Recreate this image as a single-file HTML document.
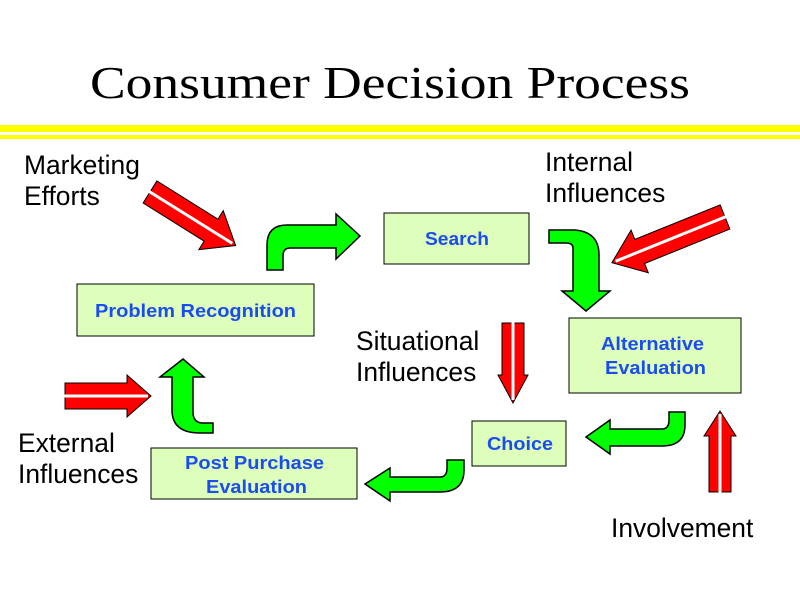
<!DOCTYPE html>
<html><head><meta charset="utf-8"><style>
html,body{margin:0;padding:0;background:#fff;}
svg{display:block;}
.lbl{font-family:"Liberation Sans",sans-serif;font-size:26.4px;fill:#000;}
.bx{fill:#ddffbb;stroke:#000;stroke-width:1;}
.bt{font-family:"Liberation Sans",sans-serif;font-size:18px;font-weight:bold;fill:#1a4cf0;}
.g{fill:#00ff00;stroke:#000;stroke-width:1.5;}
.r{fill:#ff0000;stroke:#000;stroke-width:1;}
</style></head><body>
<svg width="800" height="600" viewBox="0 0 800 600" xmlns="http://www.w3.org/2000/svg">
<text x="90" y="98" font-family="Liberation Serif,serif" font-size="45" textLength="600" lengthAdjust="spacingAndGlyphs">Consumer Decision Process</text>
<rect x="0" y="125" width="800" height="7" fill="#ffff00"/>
<rect x="0" y="135" width="800" height="4" fill="#ffff00"/>

<text class="lbl" x="24" y="174">Marketing</text>
<text class="lbl" x="24" y="205">Efforts</text>
<text class="lbl" x="545" y="171">Internal</text>
<text class="lbl" x="545" y="202">Influences</text>
<text class="lbl" x="356" y="350">Situational</text>
<text class="lbl" x="356" y="381">Influences</text>
<text class="lbl" x="18" y="452">External</text>
<text class="lbl" x="18" y="483">Influences</text>
<text class="lbl" x="611" y="537">Involvement</text>

<rect class="bx" x="77" y="284" width="237" height="52"/>
<text class="bt" x="95" y="317" textLength="201" lengthAdjust="spacingAndGlyphs">Problem Recognition</text>
<rect class="bx" x="384" y="213" width="145" height="51"/>
<text class="bt" x="425" y="245" textLength="64" lengthAdjust="spacingAndGlyphs">Search</text>
<rect class="bx" x="569" y="318" width="172" height="75"/>
<text class="bt" x="601" y="350" textLength="103" lengthAdjust="spacingAndGlyphs">Alternative</text>
<text class="bt" x="605" y="374" textLength="101" lengthAdjust="spacingAndGlyphs">Evaluation</text>
<rect class="bx" x="472" y="421" width="94" height="45"/>
<text class="bt" x="487" y="450" textLength="66" lengthAdjust="spacingAndGlyphs">Choice</text>
<rect class="bx" x="151" y="448" width="206" height="51"/>
<text class="bt" x="185" y="469" textLength="139" lengthAdjust="spacingAndGlyphs">Post Purchase</text>
<text class="bt" x="206" y="493" textLength="101" lengthAdjust="spacingAndGlyphs">Evaluation</text>

<!-- red arrows -->
<g transform="translate(150,192) rotate(32)"><polygon class="r" points="0,-13 72,-13 72,-23 101,0 72,23 72,13 0,13"/><line x1="-1" y1="0" x2="97" y2="0" stroke="#fff" stroke-width="3"/></g>
<g transform="translate(725,217) rotate(158)"><polygon class="r" points="0,-13 92,-13 92,-23 122,0 92,23 92,13 0,13"/><line x1="-1" y1="0" x2="118" y2="0" stroke="#fff" stroke-width="3"/></g>
<g transform="translate(513,323) rotate(90)"><polygon class="r" points="0,-11 52,-11 52,-15 80,0 52,15 52,11 0,11"/><line x1="-1" y1="0" x2="77" y2="0" stroke="#fff" stroke-width="3"/></g>
<g transform="translate(65,396)"><polygon class="r" points="0,-13 62,-13 62,-21 86,0 62,21 62,13 0,13"/><line x1="-1" y1="0" x2="83" y2="0" stroke="#fff" stroke-width="3"/></g>
<g transform="translate(720,492) rotate(-90)"><polygon class="r" points="0,-11 56,-11 56,-16 81,0 56,16 56,11 0,11"/><line x1="-1" y1="0" x2="78" y2="0" stroke="#fff" stroke-width="3"/></g>

<!-- green arrows -->
<path class="g" d="M267,270 L267,245 Q267,225 287,225 L336,225 L336,214 L360,236 L336,259 L336,248 L290,248 Q283,248 283,256 L283,270 Z"/>
<path class="g" d="M549,230 L575,230 Q599,232 599,255 L599,291 L610,291 L586,311 L562,291 L573,291 L573,248 Q573,243 566,243 L549,243 Z"/>
<path class="g" d="M685,412 L685,425 Q685,446 662,446 L610,446 L610,454 L586,437 L610,420 L610,429 L662,429 Q669,429 669,420 L669,412 Z"/>
<path class="g" d="M464,460 L464,470 Q464,492 440,492 L390,492 L390,501 L365,484 L390,468 L390,477 L440,477 Q447,477 447,468 L447,460 Z"/>
<path class="g" d="M213,433 L200,433 Q172,433 172,410 L172,377 L160,377 L183,359 L204,377 L193,377 L193,412 Q193,423 203,423 L213,423 Z"/>
</svg>
</body></html>
